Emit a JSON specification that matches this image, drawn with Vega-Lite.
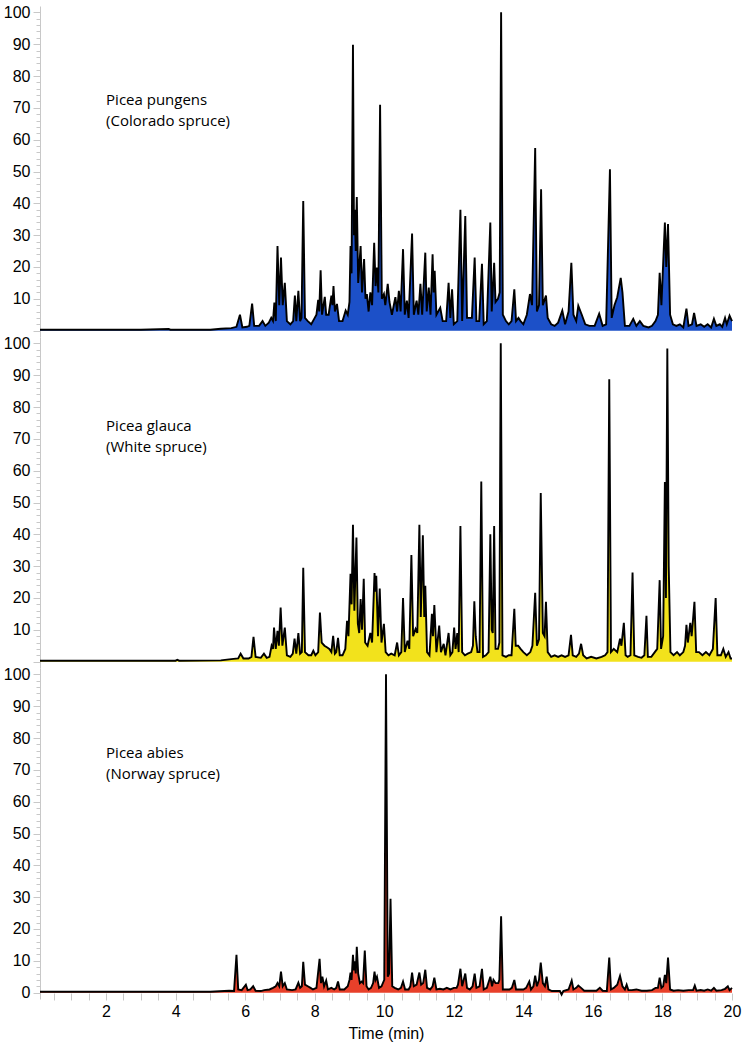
{
"$schema": "https://vega.github.io/schema/vega-lite/v6.json",
"padding": {"left": 3, "top": 4, "right": 5, "bottom": 5},
"spacing": 0,
"bounds": "flush",
"config": {"view": {"stroke": null}, "font": "Liberation Sans", "axis": {"labelFont": "Liberation Sans", "labelFontSize": 16, "labelColor": "black", "tickColor": "#c8c8c8", "domainColor": "#c8c8c8", "grid": false, "labelOverlap": false, "labelBound": false, "labelFlush": false, "tickCount": 500}},
"datasets": {
"pungens": [
{"t":0.1,"v":0.3},{"t":3.0,"v":0.3},{"t":3.8,"v":0.5},{"t":3.85,"v":0.3},{"t":5.0,"v":0.3},{"t":5.3,"v":0.6},{"t":5.6,"v":0.8},{"t":5.75,"v":1.2},{"t":5.85,"v":5},{"t":5.92,"v":1},{"t":6.05,"v":1.2},{"t":6.12,"v":1.5},{"t":6.2,"v":8.5},{"t":6.26,"v":1.5},{"t":6.4,"v":1.5},{"t":6.5,"v":3},{"t":6.58,"v":1.5},{"t":6.68,"v":2.5},{"t":6.75,"v":4},{"t":6.8,"v":3},{"t":6.84,"v":8.8},{"t":6.88,"v":3},{"t":6.93,"v":26.6},{"t":6.98,"v":8},{"t":7.03,"v":23},{"t":7.08,"v":8},{"t":7.14,"v":15},{"t":7.2,"v":3},{"t":7.3,"v":2},{"t":7.38,"v":3},{"t":7.43,"v":11},{"t":7.47,"v":3},{"t":7.53,"v":12.5},{"t":7.58,"v":3},{"t":7.62,"v":4},{"t":7.67,"v":40.7},{"t":7.72,"v":4},{"t":7.8,"v":3},{"t":7.9,"v":2},{"t":8.0,"v":4},{"t":8.05,"v":5},{"t":8.1,"v":9.7},{"t":8.13,"v":6},{"t":8.17,"v":19},{"t":8.21,"v":5},{"t":8.29,"v":10.6},{"t":8.33,"v":5},{"t":8.4,"v":5},{"t":8.48,"v":11},{"t":8.51,"v":8},{"t":8.54,"v":14},{"t":8.58,"v":6},{"t":8.64,"v":8.4},{"t":8.7,"v":3},{"t":8.8,"v":3},{"t":8.89,"v":6.3},{"t":8.95,"v":5},{"t":9.0,"v":9},{"t":9.03,"v":26.6},{"t":9.06,"v":18},{"t":9.1,"v":89.8},{"t":9.13,"v":30},{"t":9.15,"v":38},{"t":9.18,"v":25},{"t":9.21,"v":42},{"t":9.25,"v":15},{"t":9.32,"v":26.6},{"t":9.36,"v":12},{"t":9.42,"v":22.5},{"t":9.46,"v":10},{"t":9.5,"v":11.5},{"t":9.55,"v":6},{"t":9.6,"v":12},{"t":9.65,"v":8},{"t":9.71,"v":27.6},{"t":9.75,"v":14},{"t":9.79,"v":19.8},{"t":9.83,"v":12},{"t":9.88,"v":71},{"t":9.93,"v":10},{"t":9.99,"v":11.5},{"t":10.03,"v":8},{"t":10.1,"v":14.7},{"t":10.15,"v":9},{"t":10.22,"v":5},{"t":10.32,"v":10.5},{"t":10.37,"v":6},{"t":10.42,"v":12.5},{"t":10.47,"v":6},{"t":10.54,"v":25.6},{"t":10.59,"v":5},{"t":10.65,"v":9.4},{"t":10.7,"v":4},{"t":10.8,"v":30.5},{"t":10.85,"v":5},{"t":10.93,"v":9.4},{"t":10.98,"v":5},{"t":11.04,"v":14.7},{"t":11.09,"v":5},{"t":11.18,"v":24.5},{"t":11.22,"v":6},{"t":11.28,"v":13.5},{"t":11.33,"v":5},{"t":11.39,"v":24},{"t":11.42,"v":12},{"t":11.45,"v":18.8},{"t":11.5,"v":5},{"t":11.61,"v":7.2},{"t":11.68,"v":3},{"t":11.78,"v":3},{"t":11.85,"v":15},{"t":11.9,"v":4},{"t":11.95,"v":13},{"t":12.0,"v":2},{"t":12.1,"v":3},{"t":12.19,"v":38},{"t":12.24,"v":3},{"t":12.33,"v":36},{"t":12.38,"v":4},{"t":12.45,"v":4},{"t":12.52,"v":4},{"t":12.6,"v":23},{"t":12.65,"v":3},{"t":12.73,"v":3},{"t":12.81,"v":21},{"t":12.86,"v":2},{"t":12.95,"v":3},{"t":13.05,"v":34},{"t":13.09,"v":6},{"t":13.16,"v":21.3},{"t":13.2,"v":9},{"t":13.27,"v":10},{"t":13.32,"v":12},{"t":13.36,"v":100},{"t":13.41,"v":5},{"t":13.5,"v":3},{"t":13.58,"v":2},{"t":13.66,"v":3},{"t":13.74,"v":13},{"t":13.79,"v":3},{"t":13.86,"v":4},{"t":13.92,"v":3},{"t":14.0,"v":2},{"t":14.1,"v":5},{"t":14.19,"v":11.5},{"t":14.25,"v":8},{"t":14.34,"v":57.4},{"t":14.39,"v":6},{"t":14.45,"v":8},{"t":14.51,"v":44.4},{"t":14.56,"v":8},{"t":14.65,"v":11},{"t":14.7,"v":4},{"t":14.8,"v":2},{"t":14.9,"v":1.5},{"t":15.0,"v":2.5},{"t":15.12,"v":6.3},{"t":15.2,"v":2},{"t":15.3,"v":6},{"t":15.38,"v":21.3},{"t":15.44,"v":5},{"t":15.52,"v":3},{"t":15.58,"v":7.8},{"t":15.68,"v":5},{"t":15.78,"v":2},{"t":15.9,"v":1.5},{"t":16.05,"v":1.5},{"t":16.18,"v":5.3},{"t":16.28,"v":1.5},{"t":16.38,"v":2},{"t":16.49,"v":50.7},{"t":16.54,"v":4},{"t":16.62,"v":8},{"t":16.7,"v":10.5},{"t":16.8,"v":16.6},{"t":16.85,"v":12},{"t":16.92,"v":1.5},{"t":17.05,"v":1.5},{"t":17.16,"v":3.7},{"t":17.25,"v":1.5},{"t":17.35,"v":3},{"t":17.45,"v":1.5},{"t":17.6,"v":1},{"t":17.7,"v":1.5},{"t":17.8,"v":3},{"t":17.87,"v":5},{"t":17.92,"v":18.2},{"t":17.97,"v":8},{"t":18.07,"v":34},{"t":18.11,"v":20},{"t":18.16,"v":33.5},{"t":18.22,"v":5},{"t":18.3,"v":2},{"t":18.4,"v":1.5},{"t":18.5,"v":2},{"t":18.6,"v":1},{"t":18.69,"v":6.9},{"t":18.75,"v":1.5},{"t":18.85,"v":2},{"t":18.91,"v":5.6},{"t":18.98,"v":1.5},{"t":19.1,"v":2},{"t":19.2,"v":1.2},{"t":19.3,"v":2},{"t":19.4,"v":1},{"t":19.48,"v":3.7},{"t":19.55,"v":1.5},{"t":19.65,"v":2},{"t":19.72,"v":1.2},{"t":19.8,"v":4},{"t":19.85,"v":2},{"t":19.93,"v":4.7},{"t":20.0,"v":3}
],
"glauca": [
{"t":0.1,"v":0.3},{"t":4.0,"v":0.3},{"t":4.05,"v":0.6},{"t":4.1,"v":0.3},{"t":5.3,"v":0.4},{"t":5.6,"v":0.8},{"t":5.8,"v":1},{"t":5.87,"v":2.5},{"t":5.95,"v":1},{"t":6.1,"v":1},{"t":6.18,"v":1.5},{"t":6.24,"v":7.8},{"t":6.3,"v":1.5},{"t":6.45,"v":1.2},{"t":6.54,"v":2.5},{"t":6.62,"v":1.2},{"t":6.7,"v":1.5},{"t":6.76,"v":5},{"t":6.8,"v":4},{"t":6.83,"v":10.7},{"t":6.88,"v":4},{"t":6.93,"v":9.7},{"t":6.97,"v":5},{"t":7.02,"v":17},{"t":7.07,"v":5},{"t":7.14,"v":10.7},{"t":7.2,"v":2},{"t":7.3,"v":1.5},{"t":7.37,"v":2.5},{"t":7.42,"v":7.2},{"t":7.47,"v":2.5},{"t":7.53,"v":9},{"t":7.58,"v":2.5},{"t":7.63,"v":3},{"t":7.67,"v":29.5},{"t":7.72,"v":3},{"t":7.82,"v":2},{"t":7.9,"v":2},{"t":7.96,"v":3.4},{"t":8.02,"v":2},{"t":8.1,"v":3},{"t":8.15,"v":15.4},{"t":8.2,"v":6},{"t":8.28,"v":5},{"t":8.35,"v":4.5},{"t":8.42,"v":4},{"t":8.48,"v":3},{"t":8.53,"v":8.1},{"t":8.58,"v":2.5},{"t":8.62,"v":3},{"t":8.67,"v":7.5},{"t":8.72,"v":2},{"t":8.8,"v":2},{"t":8.88,"v":4},{"t":8.93,"v":12.8},{"t":8.97,"v":8},{"t":9.03,"v":27.6},{"t":9.06,"v":18},{"t":9.1,"v":43},{"t":9.14,"v":16},{"t":9.2,"v":39},{"t":9.24,"v":12},{"t":9.28,"v":9},{"t":9.32,"v":19.7},{"t":9.36,"v":10},{"t":9.41,"v":26},{"t":9.45,"v":6},{"t":9.52,"v":5},{"t":9.6,"v":9},{"t":9.65,"v":6},{"t":9.72,"v":27.8},{"t":9.75,"v":22},{"t":9.77,"v":27},{"t":9.82,"v":8},{"t":9.87,"v":23},{"t":9.92,"v":6},{"t":9.99,"v":11.9},{"t":10.04,"v":3},{"t":10.12,"v":2},{"t":10.2,"v":2.5},{"t":10.3,"v":2},{"t":10.37,"v":6},{"t":10.42,"v":2},{"t":10.49,"v":3},{"t":10.54,"v":20},{"t":10.59,"v":3},{"t":10.67,"v":6.6},{"t":10.72,"v":4},{"t":10.78,"v":33.5},{"t":10.83,"v":8},{"t":10.9,"v":10.3},{"t":10.95,"v":9},{"t":11.01,"v":43},{"t":11.05,"v":14},{"t":11.11,"v":39.7},{"t":11.15,"v":14},{"t":11.18,"v":23.8},{"t":11.23,"v":3},{"t":11.3,"v":2},{"t":11.37,"v":15},{"t":11.4,"v":8},{"t":11.44,"v":17.8},{"t":11.5,"v":3},{"t":11.58,"v":11.3},{"t":11.63,"v":3},{"t":11.71,"v":5.6},{"t":11.76,"v":2},{"t":11.85,"v":9},{"t":11.9,"v":2},{"t":11.96,"v":3},{"t":12.01,"v":10.7},{"t":12.05,"v":4},{"t":12.1,"v":9},{"t":12.14,"v":3},{"t":12.19,"v":42.6},{"t":12.24,"v":3},{"t":12.32,"v":2},{"t":12.4,"v":2.5},{"t":12.5,"v":3},{"t":12.55,"v":5},{"t":12.59,"v":19},{"t":12.63,"v":8},{"t":12.68,"v":3},{"t":12.74,"v":3},{"t":12.79,"v":56.6},{"t":12.84,"v":1.5},{"t":12.92,"v":2},{"t":13.0,"v":3},{"t":13.05,"v":40},{"t":13.09,"v":10},{"t":13.12,"v":9},{"t":13.16,"v":42.6},{"t":13.2,"v":4},{"t":13.27,"v":4},{"t":13.31,"v":6},{"t":13.35,"v":100},{"t":13.4,"v":2},{"t":13.5,"v":1.5},{"t":13.58,"v":2},{"t":13.66,"v":2},{"t":13.74,"v":16.6},{"t":13.78,"v":5},{"t":13.85,"v":5},{"t":13.92,"v":4},{"t":14.0,"v":3},{"t":14.1,"v":2},{"t":14.2,"v":3},{"t":14.26,"v":5},{"t":14.34,"v":21.6},{"t":14.39,"v":5},{"t":14.45,"v":7},{"t":14.5,"v":53},{"t":14.56,"v":9},{"t":14.61,"v":8},{"t":14.65,"v":18.8},{"t":14.7,"v":3},{"t":14.8,"v":1.5},{"t":14.9,"v":2},{"t":15.0,"v":1.5},{"t":15.1,"v":2},{"t":15.2,"v":1.5},{"t":15.3,"v":2},{"t":15.37,"v":8.4},{"t":15.42,"v":2},{"t":15.52,"v":1.5},{"t":15.6,"v":2.5},{"t":15.66,"v":5.6},{"t":15.72,"v":2},{"t":15.82,"v":1},{"t":15.95,"v":1.5},{"t":16.1,"v":1},{"t":16.25,"v":1.5},{"t":16.35,"v":2},{"t":16.42,"v":3},{"t":16.47,"v":88.7},{"t":16.52,"v":3},{"t":16.6,"v":4},{"t":16.7,"v":3},{"t":16.78,"v":7.2},{"t":16.82,"v":5},{"t":16.89,"v":12.2},{"t":16.94,"v":2},{"t":17.0,"v":1.5},{"t":17.08,"v":2},{"t":17.14,"v":28},{"t":17.19,"v":2},{"t":17.3,"v":1.5},{"t":17.4,"v":1.2},{"t":17.48,"v":2},{"t":17.54,"v":14.4},{"t":17.58,"v":1.5},{"t":17.68,"v":1.5},{"t":17.78,"v":3},{"t":17.85,"v":4},{"t":17.92,"v":25.6},{"t":17.96,"v":4},{"t":18.02,"v":8},{"t":18.07,"v":56.4},{"t":18.1,"v":20},{"t":18.14,"v":98.4},{"t":18.18,"v":30},{"t":18.23,"v":3},{"t":18.32,"v":2},{"t":18.42,"v":3},{"t":18.5,"v":2},{"t":18.6,"v":3},{"t":18.65,"v":5},{"t":18.69,"v":11.6},{"t":18.73,"v":6},{"t":18.8,"v":12.2},{"t":18.84,"v":8},{"t":18.92,"v":18.8},{"t":18.97,"v":3},{"t":19.05,"v":3},{"t":19.15,"v":2},{"t":19.25,"v":3},{"t":19.35,"v":2},{"t":19.45,"v":4},{"t":19.53,"v":20},{"t":19.58,"v":2},{"t":19.68,"v":2},{"t":19.75,"v":4},{"t":19.82,"v":1.5},{"t":19.9,"v":3},{"t":19.96,"v":1},{"t":20.0,"v":1}
],
"abies": [
{"t":0.1,"v":0.3},{"t":5.0,"v":0.3},{"t":5.4,"v":0.5},{"t":5.54,"v":0.6},{"t":5.68,"v":0.5},{"t":5.75,"v":11.9},{"t":5.8,"v":1},{"t":5.9,"v":0.8},{"t":6.02,"v":2.5},{"t":6.07,"v":0.8},{"t":6.15,"v":1},{"t":6.23,"v":2},{"t":6.3,"v":0.6},{"t":6.45,"v":0.5},{"t":6.55,"v":0.8},{"t":6.7,"v":1},{"t":6.8,"v":1.5},{"t":6.88,"v":2},{"t":6.93,"v":3},{"t":6.98,"v":2},{"t":7.03,"v":6.6},{"t":7.08,"v":2},{"t":7.14,"v":3},{"t":7.2,"v":1},{"t":7.35,"v":0.8},{"t":7.45,"v":1},{"t":7.53,"v":3.1},{"t":7.58,"v":1.5},{"t":7.63,"v":2},{"t":7.67,"v":9.7},{"t":7.72,"v":2.5},{"t":7.8,"v":2},{"t":7.88,"v":1.5},{"t":7.95,"v":1},{"t":8.05,"v":1.5},{"t":8.14,"v":10.6},{"t":8.18,"v":3},{"t":8.22,"v":5},{"t":8.27,"v":2},{"t":8.33,"v":3.8},{"t":8.38,"v":1},{"t":8.48,"v":1.5},{"t":8.56,"v":1},{"t":8.62,"v":1.5},{"t":8.67,"v":3.5},{"t":8.72,"v":1},{"t":8.85,"v":1},{"t":8.95,"v":2},{"t":9.0,"v":4},{"t":9.03,"v":6.3},{"t":9.06,"v":4},{"t":9.1,"v":11.9},{"t":9.13,"v":7},{"t":9.15,"v":9.8},{"t":9.18,"v":6},{"t":9.21,"v":14.4},{"t":9.25,"v":6},{"t":9.3,"v":3},{"t":9.35,"v":3.5},{"t":9.39,"v":3},{"t":9.44,"v":13.2},{"t":9.49,"v":2},{"t":9.55,"v":1},{"t":9.62,"v":1.5},{"t":9.68,"v":3},{"t":9.72,"v":6.6},{"t":9.75,"v":4},{"t":9.79,"v":5},{"t":9.85,"v":1.5},{"t":9.92,"v":2},{"t":10.0,"v":4},{"t":10.05,"v":100},{"t":10.1,"v":5},{"t":10.14,"v":6},{"t":10.18,"v":29.5},{"t":10.23,"v":2},{"t":10.3,"v":1.5},{"t":10.4,"v":1},{"t":10.48,"v":1.5},{"t":10.54,"v":3.5},{"t":10.6,"v":1},{"t":10.7,"v":1},{"t":10.75,"v":2},{"t":10.8,"v":6.3},{"t":10.85,"v":2},{"t":10.93,"v":2.5},{"t":11.01,"v":6.3},{"t":11.06,"v":2.5},{"t":11.12,"v":3},{"t":11.18,"v":7.2},{"t":11.23,"v":1.5},{"t":11.32,"v":1},{"t":11.39,"v":2},{"t":11.44,"v":4.7},{"t":11.5,"v":1},{"t":11.6,"v":1.2},{"t":11.7,"v":1},{"t":11.8,"v":1.5},{"t":11.9,"v":1},{"t":12.0,"v":1.5},{"t":12.08,"v":1.5},{"t":12.12,"v":2.5},{"t":12.19,"v":7.5},{"t":12.24,"v":2},{"t":12.33,"v":6},{"t":12.38,"v":1.5},{"t":12.46,"v":1},{"t":12.54,"v":2},{"t":12.6,"v":6},{"t":12.65,"v":1.5},{"t":12.74,"v":2},{"t":12.81,"v":7.5},{"t":12.86,"v":1},{"t":12.95,"v":1.5},{"t":13.05,"v":5},{"t":13.1,"v":2},{"t":13.14,"v":4},{"t":13.2,"v":3},{"t":13.28,"v":3},{"t":13.31,"v":4},{"t":13.36,"v":24},{"t":13.41,"v":1},{"t":13.5,"v":1},{"t":13.6,"v":1},{"t":13.67,"v":1.5},{"t":13.74,"v":4},{"t":13.79,"v":1},{"t":13.88,"v":1},{"t":14.0,"v":1},{"t":14.08,"v":1.5},{"t":14.17,"v":3.5},{"t":14.22,"v":1},{"t":14.29,"v":2},{"t":14.34,"v":5.3},{"t":14.39,"v":2},{"t":14.45,"v":4},{"t":14.5,"v":9.4},{"t":14.56,"v":3},{"t":14.62,"v":2},{"t":14.67,"v":5},{"t":14.72,"v":1},{"t":14.82,"v":0.5},{"t":14.95,"v":0.5},{"t":15.05,"v":0.5},{"t":15.1,"v":-0.6},{"t":15.15,"v":0.5},{"t":15.3,"v":1},{"t":15.39,"v":3.8},{"t":15.44,"v":1},{"t":15.52,"v":1.5},{"t":15.58,"v":2.2},{"t":15.66,"v":1.5},{"t":15.75,"v":0.6},{"t":15.9,"v":0.6},{"t":16.1,"v":0.6},{"t":16.2,"v":1.5},{"t":16.28,"v":0.6},{"t":16.4,"v":0.5},{"t":16.47,"v":11},{"t":16.52,"v":1},{"t":16.6,"v":1.5},{"t":16.7,"v":2.5},{"t":16.78,"v":5.3},{"t":16.85,"v":2},{"t":16.92,"v":1},{"t":16.97,"v":2.5},{"t":17.02,"v":0.8},{"t":17.12,"v":0.8},{"t":17.25,"v":1},{"t":17.4,"v":0.6},{"t":17.55,"v":0.6},{"t":17.7,"v":0.8},{"t":17.8,"v":1.5},{"t":17.87,"v":1.5},{"t":17.92,"v":4.7},{"t":17.97,"v":1.5},{"t":18.02,"v":2},{"t":18.07,"v":5.6},{"t":18.11,"v":3},{"t":18.16,"v":11},{"t":18.22,"v":1},{"t":18.32,"v":0.6},{"t":18.45,"v":0.8},{"t":18.6,"v":0.6},{"t":18.75,"v":0.8},{"t":18.88,"v":0.8},{"t":18.93,"v":2.2},{"t":18.98,"v":0.6},{"t":19.1,"v":0.8},{"t":19.2,"v":0.6},{"t":19.3,"v":1},{"t":19.4,"v":0.6},{"t":19.48,"v":1.5},{"t":19.55,"v":0.6},{"t":19.7,"v":0.8},{"t":19.8,"v":1.2},{"t":19.88,"v":2},{"t":19.93,"v":0.8},{"t":20.0,"v":1.5}
]
},
"vconcat": [
{
"width": 692, "height": 331,
"layer": [
{"data": {"name": "pungens"},
 "mark": {"type": "area", "color": "#1c50c8", "opacity": 1, "line": {"color": "black", "strokeWidth": 1.9}},
 "encoding": {
  "x": {"field": "t", "type": "quantitative", "scale": {"domain": [0.1, 20], "nice": false, "zero": false}, "axis": null},
  "y": {"field": "v", "type": "quantitative", "scale": {"domain": [-2, 102], "nice": false, "zero": false}, "axis": {"title": null, "tickCount": 500, "values": [0,2,4,6,8,10,12,14,16,18,20,22,24,26,28,30,32,34,36,38,40,42,44,46,48,50,52,54,56,58,60,62,64,66,68,70,72,74,76,78,80,82,84,86,88,90,92,94,96,98,100], "format": "d", "labelExpr": "datum.value % 10 === 0 && datum.value > 0 ? datum.label : ''", "tickSize": {"condition": {"test": "datum.value % 10 === 0", "value": 7}, "value": 4}, "labelPadding": 3}}
 }},
{"data": {"values": [{}]},
 "mark": {"type": "text", "text": ["Picea pungens", "(Colorado spruce)"], "align": "left", "baseline": "alphabetic", "font": "Open Sans", "fontSize": 15, "lineHeight": 21, "color": "black"},
 "encoding": {"x": {"datum": 2.0, "type": "quantitative"}, "y": {"datum": 71, "type": "quantitative"}}}
]
},
{
"width": 692, "height": 331,
"layer": [
{"data": {"name": "glauca"},
 "mark": {"type": "area", "color": "#f2e21c", "opacity": 1, "line": {"color": "black", "strokeWidth": 1.9}},
 "encoding": {
  "x": {"field": "t", "type": "quantitative", "scale": {"domain": [0.1, 20], "nice": false, "zero": false}, "axis": null},
  "y": {"field": "v", "type": "quantitative", "scale": {"domain": [-2, 102], "nice": false, "zero": false}, "axis": {"title": null, "tickCount": 500, "values": [0,2,4,6,8,10,12,14,16,18,20,22,24,26,28,30,32,34,36,38,40,42,44,46,48,50,52,54,56,58,60,62,64,66,68,70,72,74,76,78,80,82,84,86,88,90,92,94,96,98,100], "format": "d", "labelExpr": "datum.value % 10 === 0 && datum.value > 0 ? datum.label : ''", "tickSize": {"condition": {"test": "datum.value % 10 === 0", "value": 7}, "value": 4}, "labelPadding": 3}}
 }},
{"data": {"values": [{}]},
 "mark": {"type": "text", "text": ["Picea glauca", "(White spruce)"], "align": "left", "baseline": "alphabetic", "font": "Open Sans", "fontSize": 15, "lineHeight": 21, "color": "black"},
 "encoding": {"x": {"datum": 2.0, "type": "quantitative"}, "y": {"datum": 72.5, "type": "quantitative"}}}
]
},
{
"width": 692, "height": 331,
"layer": [
{"data": {"name": "abies"},
 "mark": {"type": "area", "color": "#e8402a", "opacity": 1, "line": {"color": "black", "strokeWidth": 1.9}},
 "encoding": {
  "x": {"field": "t", "type": "quantitative", "scale": {"domain": [0.1, 20], "nice": false, "zero": false}, "axis": {"title": "Time (min)", "titleFontSize": 16, "titleFontWeight": "normal", "titleFont": "Liberation Sans", "titleColor": "black", "titlePadding": 6, "tickCount": 500, "values": [0.5,1,1.5,2,2.5,3,3.5,4,4.5,5,5.5,6,6.5,7,7.5,8,8.5,9,9.5,10,10.5,11,11.5,12,12.5,13,13.5,14,14.5,15,15.5,16,16.5,17,17.5,18,18.5,19,19.5,20], "labelExpr": "datum.value % 2 === 0 ? format(datum.value, 'd') : ''", "tickSize": 7, "domain": false, "offset": -6, "labelPadding": 3}},
  "y": {"field": "v", "type": "quantitative", "scale": {"domain": [-2, 102], "nice": false, "zero": false}, "axis": {"title": null, "tickCount": 500, "values": [0,2,4,6,8,10,12,14,16,18,20,22,24,26,28,30,32,34,36,38,40,42,44,46,48,50,52,54,56,58,60,62,64,66,68,70,72,74,76,78,80,82,84,86,88,90,92,94,96,98,100], "format": "d", "labelExpr": "datum.value % 10 === 0 ? datum.label : ''", "tickSize": {"condition": {"test": "datum.value % 10 === 0", "value": 7}, "value": 4}, "labelPadding": 3}}
 }},
{"data": {"values": [{}]},
 "mark": {"type": "text", "text": ["Picea abies", "(Norway spruce)"], "align": "left", "baseline": "alphabetic", "font": "Open Sans", "fontSize": 15, "lineHeight": 21, "color": "black"},
 "encoding": {"x": {"datum": 2.0, "type": "quantitative"}, "y": {"datum": 73.8, "type": "quantitative"}}}
]
}
]
}
